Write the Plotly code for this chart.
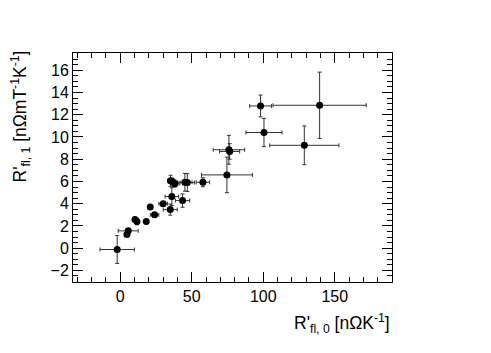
import plotly.graph_objects as go

# R'_fl,0 [nOhm/K] vs R'_fl,1 [nOhm mT^-1 K^-1]
x_vals = [-2.1, 4.7, 5.6, 10.3, 11.7, 18.2, 21.0, 24.0, 30.0, 35.0, 36.1,
          35.2, 36.4, 38.2, 43.6, 45.2, 46.9, 57.8, 74.6, 76.0, 76.5,
          98.1, 100.5, 128.7, 139.4]
y_vals = [-0.12, 1.23, 1.56, 2.58, 2.4, 2.4, 3.71, 3.0, 4.0, 3.47, 4.64,
          6.06, 6.0, 5.8, 4.28, 5.93, 5.9, 5.93, 6.59, 8.85, 8.7,
          12.79, 10.4, 9.25, 12.85]
x_err = [12.0, 0.0, 7.0, 0.0, 0.0, 0.0, 0.0, 3.0, 3.0, 4.9, 4.7,
         2.0, 2.0, 3.0, 5.0, 5.0, 5.0, 4.7, 17.8, 11.0, 7.0,
         7.6, 12.6, 24.2, 32.6]
y_err = [1.25, 0.0, 0.2, 0.2, 0.3, 0.0, 0.0, 0.2, 0.2, 0.5, 0.8,
         0.5, 0.3, 0.3, 0.6, 0.8, 0.8, 0.4, 1.6, 1.3, 0.7,
         0.98, 1.27, 1.74, 2.98]

x_ticks = [0, 50, 100, 150]
y_ticks = [-2, 0, 2, 4, 6, 8, 10, 12, 14, 16]

fig = go.Figure()

fig.add_trace(
    go.Scatter(
        x=x_vals,
        y=y_vals,
        mode="markers",
        marker=dict(color="black", size=7),
        error_x=dict(type="data", array=x_err, color="#333", thickness=1, width=2),
        error_y=dict(type="data", array=y_err, color="#333", thickness=1, width=2),
        showlegend=False,
    )
)

axis_font = dict(family="Liberation Sans, Arial, sans-serif", size=16, color="black")
title_font = dict(family="Liberation Sans, Arial, sans-serif", size=17.5, color="black")

fig.update_xaxes(
    range=[-33, 190],
    tickvals=x_ticks,
    ticktext=[str(v) for v in x_ticks],
    ticks="inside",
    ticklen=10,
    tickwidth=1,
    tickcolor="black",
    minor=dict(dtick=10, tick0=0, ticks="inside", ticklen=5, tickcolor="black"),
    showline=True,
    linecolor="black",
    linewidth=1,
    mirror="allticks",
    showgrid=False,
    zeroline=False,
    tickfont=axis_font,
)
fig.update_yaxes(
    range=[-3.04, 17.55],
    tickvals=y_ticks,
    ticktext=[str(v).replace("-", "\u2212") for v in y_ticks],
    ticks="inside",
    ticklen=10,
    tickwidth=1,
    tickcolor="black",
    minor=dict(dtick=0.5, tick0=0, ticks="inside", ticklen=5, tickcolor="black"),
    showline=True,
    linecolor="black",
    linewidth=1,
    mirror="allticks",
    showgrid=False,
    zeroline=False,
    tickfont=axis_font,
)

# axis titles, ROOT style (flush with the end of the axis)
fig.add_annotation(
    text="R'<sub>fl, 0</sub> [nΩK<sup>-1</sup>]",
    xref="paper", yref="paper", x=1.0, y=-0.118,
    xanchor="right", yanchor="top", showarrow=False,
    font=title_font,
)
fig.add_annotation(
    text="R'<sub>fl, 1</sub> [nΩmT<sup>-1</sup>K<sup>-1</sup>]",
    xref="paper", yref="paper", x=-0.166, y=1.02,
    xanchor="center", yanchor="top", textangle=-90, showarrow=False,
    font=title_font,
)

# page body adds an 8px offset, so margins are trimmed to compensate
fig.update_layout(
    width=491,
    height=353,
    margin=dict(l=65, r=107, t=45, b=79),
    plot_bgcolor="white",
    paper_bgcolor="white",
)

fig.write_html("out.html")
